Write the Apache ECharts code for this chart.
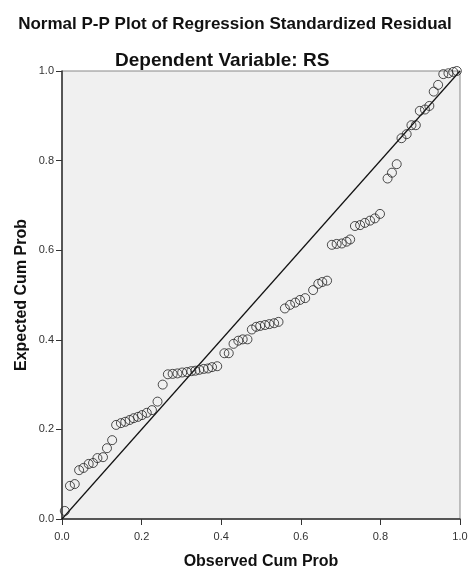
<!DOCTYPE html>
<html>
<head>
<meta charset="utf-8">
<script src="https://cdn.jsdelivr.net/npm/echarts@6/dist/echarts.min.js"></script>
<style>
  html, body { margin: 0; padding: 0; background: #fff; }
  #chart { width: 470px; height: 572px; }
</style>
</head>
<body>
<div id="chart"></div>
<script>
// observed cum prob (x) and expected cum prob (y)
var observed = [
  0.007, 0.020, 0.032, 0.043, 0.054, 0.067, 0.078, 0.089, 0.103, 0.113,
  0.126, 0.136, 0.148, 0.159, 0.170, 0.180, 0.191, 0.201, 0.213, 0.226,
  0.240, 0.253, 0.266, 0.278, 0.290, 0.302, 0.314, 0.325, 0.335, 0.345,
  0.356, 0.367, 0.377, 0.390, 0.408, 0.419, 0.431, 0.443, 0.454, 0.466,
  0.477, 0.488, 0.498, 0.510, 0.521, 0.533, 0.544, 0.560, 0.573, 0.586,
  0.598, 0.611, 0.631, 0.644, 0.654, 0.666, 0.678, 0.690, 0.703, 0.715,
  0.724, 0.736, 0.749, 0.761, 0.774, 0.786, 0.799, 0.818, 0.829, 0.841,
  0.853, 0.866, 0.878, 0.889, 0.899, 0.912, 0.923, 0.934, 0.945, 0.958,
  0.971, 0.983, 0.992
];
var expected = [
  0.018, 0.074, 0.078, 0.109, 0.114, 0.123, 0.125, 0.136, 0.138, 0.158,
  0.176, 0.210, 0.214, 0.217, 0.221, 0.225, 0.228, 0.232, 0.237, 0.243,
  0.262, 0.300, 0.323, 0.324, 0.325, 0.327, 0.328, 0.330, 0.331, 0.333,
  0.335, 0.336, 0.339, 0.341, 0.370, 0.370, 0.391, 0.398, 0.401, 0.401,
  0.423, 0.429, 0.431, 0.433, 0.435, 0.437, 0.440, 0.470, 0.478, 0.483,
  0.489, 0.493, 0.511, 0.525, 0.529, 0.532, 0.612, 0.614, 0.615, 0.619,
  0.624, 0.654, 0.656, 0.661, 0.666, 0.671, 0.681, 0.760, 0.773, 0.792,
  0.850, 0.859, 0.879, 0.879, 0.911, 0.914, 0.922, 0.954, 0.969, 0.993,
  0.995, 0.998, 1.000
];
// reference diagonal
var diagonal = [[0, 0], [1, 1]];

var points = [];
for (var i = 0; i < observed.length; i++) {
  points.push([observed[i], expected[i]]);
}

var font = 'Liberation Sans, Arial, sans-serif';
var chart = echarts.init(document.getElementById('chart'));

var option = {
  backgroundColor: '#fff',
  animation: false,
  title: [{
    text: 'Normal P-P Plot of Regression Standardized Residual',
    left: 'center',
    top: 11,
    textStyle: { fontFamily: font, fontSize: 17, fontWeight: 'bold', color: '#111' }
  }, {
    text: 'Dependent Variable: RS',
    left: 110,
    top: 46,
    textStyle: { fontFamily: font, fontSize: 19, fontWeight: 'bold', color: '#111' }
  }],
  grid: {
    left: 62,
    right: 10,
    top: 71,
    bottom: 53,
    outerBoundsMode: 'none',
    show: true,
    backgroundColor: '#f0f0f0',
    borderColor: '#888',
    borderWidth: 1
  },
  xAxis: {
    type: 'value',
    min: 0,
    max: 1,
    interval: 0.2,
    name: 'Observed Cum Prob',
    nameLocation: 'middle',
    nameGap: 35,
    nameMoveOverlap: false,
    nameTextStyle: { fontFamily: font, fontSize: 16, fontWeight: 'bold', color: '#111' },
    axisLine: { show: true, lineStyle: { color: '#333', width: 1.5 } },
    axisTick: { show: true, length: 6, lineStyle: { color: '#333' } },
    axisLabel: {
      fontFamily: font, fontSize: 11, color: '#333', margin: 12,
      formatter: function (v) { return v.toFixed(1); }
    },
    splitLine: { show: false }
  },
  yAxis: {
    type: 'value',
    min: 0,
    max: 1,
    interval: 0.2,
    name: 'Expected Cum Prob',
    nameLocation: 'middle',
    nameGap: 32,
    nameMoveOverlap: false,
    nameTextStyle: { fontFamily: font, fontSize: 16, fontWeight: 'bold', color: '#111' },
    axisLine: { show: true, lineStyle: { color: '#333', width: 1.5 } },
    axisTick: { show: true, length: 6, lineStyle: { color: '#333' } },
    axisLabel: {
      fontFamily: font, fontSize: 11, color: '#333', margin: 8,
      formatter: function (v) { return v.toFixed(1); }
    },
    splitLine: { show: false }
  },
  series: [{
    type: 'line',
    data: diagonal,
    symbol: 'none',
    lineStyle: { color: '#111', width: 1.2 },
    z: 2
  }, {
    type: 'scatter',
    data: points,
    symbol: 'circle',
    symbolSize: 9,
    itemStyle: { color: 'rgba(0,0,0,0)', borderColor: '#222', borderWidth: 1 },
    z: 3
  }]
};

chart.setOption(option);
</script>
</body>
</html>
